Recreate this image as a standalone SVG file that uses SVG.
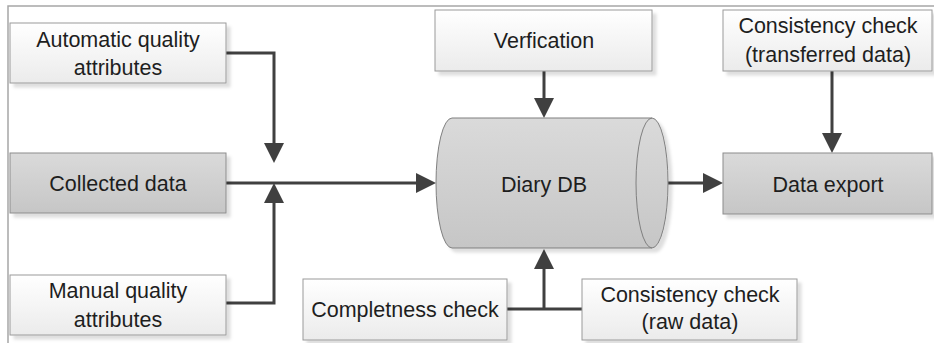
<svg xmlns="http://www.w3.org/2000/svg" width="934" height="343" viewBox="0 0 934 343">
  <style>
    .frame { fill: none; stroke: #a6a6a6; stroke-width: 1.5; }
    .box-light { fill: url(#gLight); stroke: #9a9a9a; stroke-width: 1; filter: url(#shadow); }
    .box-dark { fill: url(#gDark); stroke: #8c8c8c; stroke-width: 1; filter: url(#shadow); }
    .db { fill: url(#gDark); stroke: #7f7f7f; stroke-width: 1; }
    .db-line { fill: none; stroke: #7f7f7f; stroke-width: 1; }
    .label { font-family: "Liberation Sans", Arial, sans-serif; font-size: 21.5px; fill: #1e1e1e; text-anchor: middle; }
    .conn { fill: none; stroke: #404040; stroke-width: 3; }
    .arrow { marker-end: url(#head); }
  </style>
  <defs>
    <linearGradient id="gLight" x1="0" y1="0" x2="0" y2="1">
      <stop offset="0" stop-color="#ffffff"/>
      <stop offset="1" stop-color="#ebebeb"/>
    </linearGradient>
    <linearGradient id="gDark" x1="0" y1="0" x2="0" y2="1">
      <stop offset="0" stop-color="#dadada"/>
      <stop offset="1" stop-color="#c6c6c6"/>
    </linearGradient>
    <filter id="shadow" x="-10%" y="-10%" width="125%" height="140%">
      <feDropShadow dx="4" dy="4" stdDeviation="1.5" flood-color="#000000" flood-opacity="0.13"/>
    </filter>
    <marker id="head" viewBox="0 0 20 20" refX="3" refY="10" markerWidth="20" markerHeight="20" markerUnits="userSpaceOnUse" orient="auto">
      <path d="M0,0 L20,10 L0,20 z" fill="#404040"/>
    </marker>
  </defs>

  <!-- page frame -->
  <path class="frame" d="M8,343 V6 H934"/>

  <!-- connectors -->
  <g id="connectors">
    <path class="conn arrow" d="M226,53 H274 V146"/>
    <path class="conn arrow" d="M226,303 H274 V200"/>
    <path class="conn arrow" d="M226,183 H419"/>
    <path class="conn arrow" d="M544,71 V101"/>
    <path class="conn" d="M507,309 H582"/>
    <path class="conn arrow" d="M544,309 V266"/>
    <path class="conn arrow" d="M651,183 H706"/>
    <path class="conn arrow" d="M832,71 V136"/>
  </g>

  <g id="auto-quality">
    <rect class="box-light" x="10" y="23" width="216" height="60"/>
    <text class="label" x="118" y="47">Automatic quality</text>
    <text class="label" x="118" y="75">attributes</text>
  </g>

  <g id="collected-data">
    <rect class="box-dark" x="10" y="153" width="216" height="60"/>
    <text class="label" x="118" y="191">Collected data</text>
  </g>

  <g id="manual-quality">
    <rect class="box-light" x="10" y="275" width="216" height="60"/>
    <text class="label" x="118" y="298">Manual quality</text>
    <text class="label" x="118" y="327">attributes</text>
  </g>

  <g id="verification">
    <rect class="box-light" x="435" y="10" width="217" height="61"/>
    <text class="label" x="544" y="48">Verfication</text>
  </g>

  <g id="diary-db">
    <path class="db" filter="url(#shadow)" d="M452,118 H652 A16,65 0 0 1 652,248 H452 A16,65 0 0 1 452,118 z"/>
    <path class="db-line" d="M652,118 A16,65 0 0 0 652,248"/>
    <text class="label" x="544" y="192">Diary DB</text>
  </g>

  <g id="consistency-transferred">
    <rect class="box-light" x="723" y="10" width="209" height="61"/>
    <text class="label" x="828" y="33">Consistency check</text>
    <text class="label" x="828" y="62">(transferred data)</text>
  </g>

  <g id="data-export">
    <rect class="box-dark" x="723" y="153" width="209" height="61"/>
    <text class="label" x="828" y="192">Data export</text>
  </g>

  <g id="completeness-check">
    <rect class="box-light" x="303" y="279" width="204" height="61"/>
    <text class="label" x="405" y="317">Completness check</text>
  </g>

  <g id="consistency-raw">
    <rect class="box-light" x="582" y="279" width="215" height="61"/>
    <text class="label" x="690" y="302">Consistency check</text>
    <text class="label" x="690" y="329">(raw data)</text>
  </g>
</svg>
